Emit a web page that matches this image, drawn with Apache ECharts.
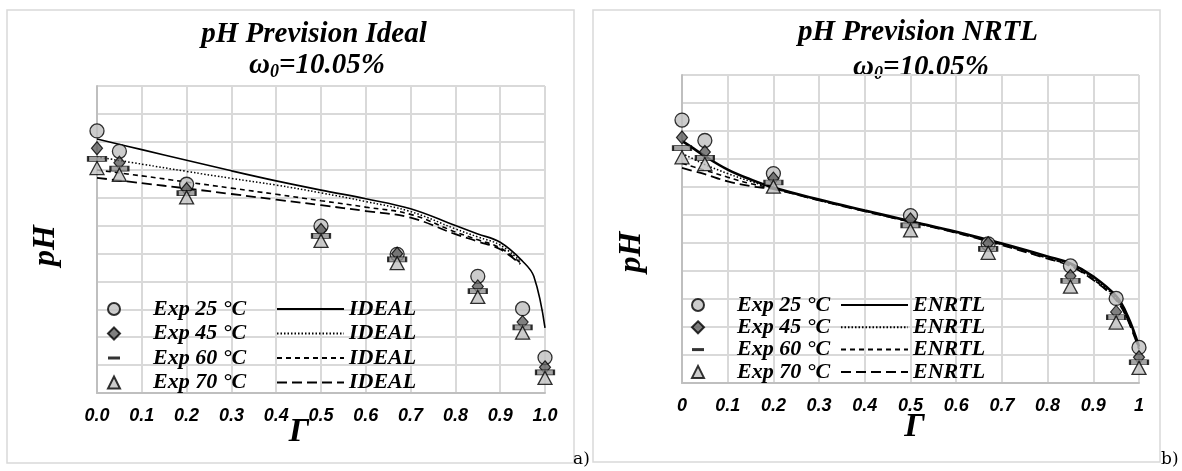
<!DOCTYPE html>
<html>
<head>
<meta charset="utf-8">
<script src="https://cdn.jsdelivr.net/npm/echarts@6/dist/echarts.min.js"></script>
<style>
  html, body { margin: 0; padding: 0; background: #fff; }
  #chart { width: 1182px; height: 471px; }
</style>
</head>
<body>
<div id="chart"></div>
<script>
// Experimental pH at each degree of neutralisation Γ (same data in both panels)
const gammaExp = [0, 0.05, 0.2, 0.5, 0.67, 0.85, 0.95, 1.0];
const exp25 = [9.39, 8.66, 7.48, 5.98, 4.97, 4.18, 3.02, 1.27];
const exp45 = [8.77, 8.25, 7.30, 5.84, 4.99, 3.82, 2.54, 0.92];
const exp60 = [8.39, 8.04, 7.16, 5.63, 4.79, 3.65, 2.35, 0.74];
const exp70 = [8.06, 7.82, 7.01, 5.45, 4.65, 3.44, 2.16, 0.54];

// Ideal-solution predictions
const gammaIdeal25 = [0, 0.1, 0.2, 0.3, 0.4, 0.5, 0.6, 0.7, 0.8, 0.85, 0.9, 0.95, 0.975, 1.0];
const ideal25 = [9.10, 8.72, 8.34, 7.96, 7.60, 7.27, 6.96, 6.60, 6.00, 5.70, 5.40, 4.72, 4.18, 2.33];
const gammaIdeal = [0, 0.1, 0.2, 0.3, 0.4, 0.5, 0.6, 0.7, 0.8, 0.85, 0.9, 0.945];
const ideal45 = [8.46, 8.20, 7.94, 7.69, 7.45, 7.17, 6.86, 6.50, 5.88, 5.59, 5.30, 4.72];
const ideal60 = [7.99, 7.78, 7.56, 7.34, 7.12, 6.89, 6.66, 6.40, 5.77, 5.49, 5.20, 4.66];
const ideal70 = [7.71, 7.52, 7.33, 7.13, 6.93, 6.73, 6.52, 6.28, 5.69, 5.43, 5.15, 4.62];

// Electrolyte-NRTL predictions
const gammaNrtl = [0, 0.025, 0.05, 0.1, 0.15, 0.2, 0.3, 0.4, 0.5, 0.6, 0.7, 0.8, 0.85, 0.9, 0.95, 0.975, 1.0];
const nrtl25 = [8.65, 8.38, 8.10, 7.62, 7.27, 6.98, 6.55, 6.16, 5.78, 5.40, 4.98, 4.52, 4.27, 3.80, 3.10, 2.40, 1.30];
const nrtl45 = [8.20, 8.00, 7.80, 7.48, 7.20, 6.97, 6.54, 6.15, 5.77, 5.39, 4.96, 4.49, 4.22, 3.74, 3.02, 2.32, 1.25];
const nrtl60 = [7.85, 7.72, 7.60, 7.35, 7.12, 6.95, 6.53, 6.14, 5.76, 5.37, 4.94, 4.46, 4.19, 3.70, 2.98, 2.28, 1.22];
const nrtl70 = [7.68, 7.57, 7.46, 7.20, 7.03, 6.92, 6.52, 6.13, 5.75, 5.36, 4.92, 4.44, 4.17, 3.68, 2.96, 2.26, 1.20];

const expNames = ['Exp 25 °C', 'Exp 45 °C', 'Exp 60 °C', 'Exp 70 °C'];
const idealNames = ['IDEAL 25', 'IDEAL 45', 'IDEAL 60', 'IDEAL 70'];
const nrtlNames = ['ENRTL 25', 'ENRTL 45', 'ENRTL 60', 'ENRTL 70'];

const pairs = (xs, ys) => xs.map((x, i) => [x, ys[i]]);

const SERIF = 'Liberation Serif';
const SANS = 'Liberation Sans';
const GRID_C = '#d9d9d9';
const AXIS_C = '#bfbfbf';

// marker look for each temperature
const markerStyles = [
  { symbol: 'circle', symbolSize: 14, itemStyle: { color: '#bfbfbf', borderColor: '#000', borderWidth: 1.3 } },
  { symbol: 'diamond', symbolSize: [11, 13], itemStyle: { color: '#5f5f5f', borderColor: '#000', borderWidth: 1.2 } },
  { symbol: 'rect', symbolSize: [18, 5], itemStyle: { color: '#8c8c8c', borderColor: '#000', borderWidth: 1.2 } },
  { symbol: 'triangle', symbolSize: [14, 13], itemStyle: { color: '#bfbfbf', borderColor: '#000', borderWidth: 1.3 } }
];
const expData = [exp25, exp45, exp60, exp70];

function expSeries(panel) {
  return expNames.map((name, k) => Object.assign({
    type: 'scatter', name, xAxisIndex: panel, yAxisIndex: panel,
    data: pairs(gammaExp, expData[k]), z: 5 + k, silent: true
  }, markerStyles[k]));
}

const lineTypes = ['solid', [1.5, 2], [5, 4], [10, 5]];
function lineSeries(panel, names, xsList, ysList, widths) {
  return names.map((name, k) => ({
    type: 'line', name, xAxisIndex: panel, yAxisIndex: panel,
    data: pairs(xsList[k], ysList[k]), symbol: 'none', showSymbol: false,
    smooth: 0.4, silent: true, z: 3,
    // transparent item colour keeps the legend swatch a bare line
    itemStyle: { color: 'rgba(0,0,0,0)', borderWidth: 0 },
    lineStyle: { color: '#000', width: widths[k], type: lineTypes[k] }
  }));
}

function xAxis(panel, fmt, nameGap, namePad) {
  return {
    gridIndex: panel, type: 'value', min: 0, max: 1, interval: 0.1,
    axisLine: { show: true, lineStyle: { color: AXIS_C, width: 2 } },
    axisTick: { show: false },
    splitLine: { show: true, lineStyle: { color: GRID_C, width: 2 } },
    axisLabel: { formatter: fmt, margin: 14, color: '#000', fontFamily: SANS,
      fontWeight: 'bold', fontStyle: 'italic', fontSize: 18 },
    name: 'Γ', nameLocation: 'middle', nameGap, nameMoveOverlap: false,
    nameTextStyle: { fontFamily: SERIF, fontStyle: 'italic', fontWeight: 'bold',
      fontSize: 34, color: '#000', padding: namePad }
  };
}
function yAxis(panel, nameGap, namePad) {
  return {
    gridIndex: panel, type: 'value', min: 0, max: 11, interval: 1,
    axisLine: { show: true, lineStyle: { color: AXIS_C, width: 2 } },
    axisTick: { show: false }, axisLabel: { show: false },
    splitLine: { show: true, lineStyle: { color: GRID_C, width: 2 } },
    name: 'pH', nameLocation: 'middle', nameGap, nameRotate: 90, nameMoveOverlap: false,
    nameTextStyle: { fontFamily: SERIF, fontStyle: 'italic', fontWeight: 'bold',
      fontSize: 32, color: '#000', padding: namePad }
  };
}

const legendText = { fontFamily: SERIF, fontStyle: 'italic', fontWeight: 'bold', fontSize: 22, color: '#000' };
function expLegend(left, top, gap) {
  return {
    orient: 'vertical', left, top, padding: 0, itemWidth: 12, itemHeight: 12, itemGap: gap,
    selectedMode: false,
    data: [
      { name: expNames[0] },
      { name: expNames[1] },
      { name: expNames[2], icon: 'path://M0,0L12,0L12,3L0,3Z', itemStyle: { color: '#000', borderWidth: 0 } },
      { name: expNames[3] }
    ],
    textStyle: Object.assign({ padding: [0, 0, 0, 28] }, legendText)
  };
}
function modelLegend(left, top, gap, names) {
  return {
    orient: 'vertical', left, top, padding: 0, itemWidth: 67, itemHeight: 12, itemGap: gap,
    selectedMode: false, data: names,
    formatter: n => n.split(' ')[0],
    textStyle: legendText
  };
}

const titleRich = {
  t: { fontFamily: SERIF, fontStyle: 'italic', fontWeight: 'bold', fontSize: 29, color: '#000', lineHeight: 31 },
  s: { fontFamily: SERIF, fontStyle: 'italic', fontWeight: 'bold', fontSize: 18, color: '#000', lineHeight: 16, verticalAlign: 'bottom' }
};
function titleGraphics(cx, y1, y2, line1) {
  return [
    { type: 'text', x: cx, y: y1, style: { text: line1, font: 'italic bold 29px "Liberation Serif"', fill: '#000', align: 'center', verticalAlign: 'middle' } },
    { type: 'text', x: cx + 3, y: y2, style: { text: '{t|ω}{s|0}{t|=10.05%}', rich: titleRich, align: 'center', verticalAlign: 'middle' } }
  ];
}

const chart = echarts.init(document.getElementById('chart'), null, { renderer: 'canvas' });
chart.setOption({
  animation: false,
  backgroundColor: '#fff',
  grid: [
    { left: 97, top: 86, width: 448, height: 307 },
    { left: 682, top: 75, width: 457, height: 308 }
  ],
  xAxis: [
    xAxis(0, v => v.toFixed(1), 22, [0, 44, 0, 0]),
    xAxis(1, v => String(+v.toFixed(1)), 27, [0, 0, 0, 8])
  ],
  yAxis: [
    yAxis(0, 35, [0, 12, 0, 0]),
    yAxis(1, 34, [0, 46, 0, 0])
  ],
  legend: [
    expLegend(107, 298, 2.5),
    modelLegend(276, 298, 2.5, idealNames),
    expLegend(691, 294, 0.3),
    modelLegend(840, 294, 0.3, nrtlNames)
  ],
  graphic: [
    { type: 'rect', shape: { x: 7, y: 10, width: 567, height: 453 }, style: { fill: 'none', stroke: '#d9d9d9', lineWidth: 1.5 }, z: -10 },
    { type: 'rect', shape: { x: 593, y: 10, width: 567, height: 452 }, style: { fill: 'none', stroke: '#d9d9d9', lineWidth: 1.5 }, z: -10 },
    ...titleGraphics(314, 35, 66, 'pH Prevision Ideal'),
    ...titleGraphics(918, 33, 68, 'pH Prevision NRTL'),
    { type: 'text', x: 573, y: 460, style: { text: 'a)', font: '17px "DejaVu Serif"', fill: '#000', verticalAlign: 'middle' } },
    { type: 'text', x: 1161, y: 460, style: { text: 'b)', font: '17px "DejaVu Serif"', fill: '#000', verticalAlign: 'middle' } }
  ],
  series: [
    ...lineSeries(0, idealNames, [gammaIdeal25, gammaIdeal, gammaIdeal, gammaIdeal], [ideal25, ideal45, ideal60, ideal70], [1.6, 1.5, 1.6, 1.8]),
    ...lineSeries(1, nrtlNames, [gammaNrtl, gammaNrtl, gammaNrtl, gammaNrtl], [nrtl25, nrtl45, nrtl60, nrtl70], [2.6, 1.5, 1.6, 1.8]),
    ...expSeries(0),
    ...expSeries(1)
  ]
});
</script>
</body>
</html>
